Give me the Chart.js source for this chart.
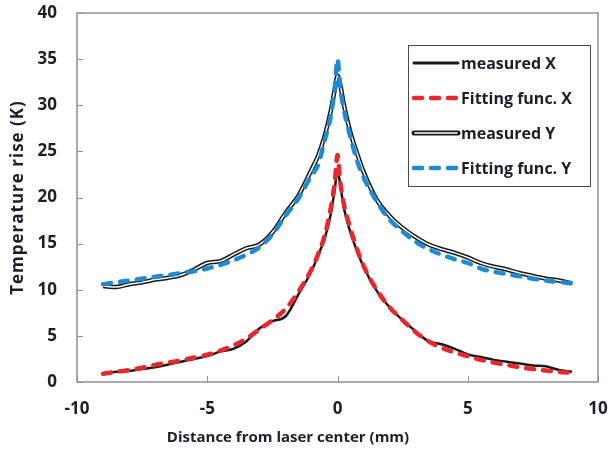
<!DOCTYPE html>
<html>
<head>
<meta charset="utf-8">
<title>Temperature rise profile</title>
<script src="https://cdn.jsdelivr.net/npm/chart.js@4/dist/chart.umd.min.js"></script>
<style>
  html, body { margin: 0; padding: 0; background: #fff; }
  #wrap { width: 611px; height: 454px; }
</style>
</head>
<body>
<div id="wrap"><canvas id="tempChart" width="611" height="454"></canvas></div>
<script>
// distance from laser center (mm)
const xPos = [-9, -8.5, -8, -7.5, -7, -6.5, -6, -5.5, -5, -4.5, -4, -3.5, -3, -2.5, -2, -1.5, -1, -0.75, -0.5, -0.25, -0.1, 0,
  0.1, 0.25, 0.5, 0.75, 1, 1.5, 2, 2.5, 3, 3.5, 4, 4.5, 5, 5.5, 6, 6.5, 7, 7.5, 8, 8.5, 9];

// temperature rise (K)
const measuredX = [0.9, 1.1, 1.2, 1.4, 1.6, 1.9, 2.2, 2.5, 2.8, 3.3, 3.6, 4.4, 5.8, 6.6, 7.1, 9.5, 12.0, 13.7, 15.5, 18.3, 21.0, 23.0,
  21.5, 18.8, 16.2, 14.2, 12.5, 9.9, 8.1, 6.7, 5.5, 4.4, 4.1, 3.6, 3.0, 2.7, 2.4, 2.2, 2.0, 1.8, 1.7, 1.3, 1.1];
const fitX = [0.9, 1.1, 1.3, 1.55, 1.85, 2.1, 2.35, 2.65, 2.95, 3.4, 3.95, 4.7, 5.7, 6.7, 7.9, 9.8, 12.2, 13.8, 15.8, 19.0, 21.8, 24.6,
  21.8, 19.2, 16.6, 14.4, 12.6, 10.0, 8.1, 6.7, 5.4, 4.4, 3.7, 3.2, 2.8, 2.4, 2.1, 1.85, 1.6, 1.4, 1.25, 1.1, 1.0];
const measuredY = [10.4, 10.3, 10.6, 10.8, 11.1, 11.3, 11.6, 12.2, 12.9, 13.1, 13.8, 14.5, 14.9, 16.2, 18.3, 20.2, 23.0, 24.5, 26.6, 29.5, 31.8, 33.2,
  32.3, 30.0, 27.0, 24.8, 22.8, 19.8, 18.0, 16.7, 15.7, 14.9, 14.4, 14.0, 13.5, 12.9, 12.5, 12.2, 11.8, 11.5, 11.2, 11.0, 10.7];
const fitY = [10.6, 10.8, 11.0, 11.2, 11.4, 11.6, 11.8, 12.0, 12.3, 12.7, 13.2, 13.8, 14.6, 16.0, 18.0, 19.9, 22.4, 23.5, 26.1, 29.0, 32.0, 35.0,
  32.0, 29.5, 26.5, 24.0, 22.2, 19.6, 17.6, 16.3, 15.2, 14.4, 13.8, 13.3, 12.9, 12.3, 11.95, 11.7, 11.45, 11.2, 11.0, 10.85, 10.7];

const xRange = [-10, 10];
const yRange = [0, 40];
const tickStep = 5;

const xTitle = 'Distance from laser center (mm)';
const yTitle = 'Temperature rise (K)';

const textColor = '#1d1d2b';
const fontFamily = '"Open Sans", Lato, sans-serif';

const toPoints = (ys) => ys.map((y, i) => ({ x: xPos[i], y: y }));

// small tick marks pointing into the plot, the closed frame and axis titles
const frameTicks = {
  id: 'frameTicks',
  beforeDatasetsDraw(chart) {
    const { ctx, chartArea: a, scales } = chart;
    ctx.save();
    ctx.strokeStyle = '#8d929a';
    ctx.lineWidth = 1.5;
    ctx.strokeRect(a.left, a.top, a.right - a.left, a.bottom - a.top);
    ctx.lineWidth = 1;
    ctx.beginPath();
    scales.x.ticks.forEach(t => {
      const px = Math.round(scales.x.getPixelForValue(t.value)) + 0.5;
      ctx.moveTo(px, a.bottom);
      ctx.lineTo(px, a.bottom - 6);
    });
    scales.y.ticks.forEach(t => {
      const py = Math.round(scales.y.getPixelForValue(t.value)) + 0.5;
      ctx.moveTo(a.left, py);
      ctx.lineTo(a.left + 6, py);
    });
    ctx.stroke();

    ctx.fillStyle = textColor;
    ctx.font = 'bold 15px ' + fontFamily;
    ctx.textAlign = 'center';
    ctx.textBaseline = 'middle';
    ctx.fillText(xTitle, a.left + 211, a.bottom + 56);
    ctx.translate(18, (a.top + a.bottom) / 2);
    ctx.rotate(-Math.PI / 2);
    ctx.font = 'bold 17px ' + fontFamily;
    ctx.letterSpacing = '1px';
    ctx.fillText(yTitle, 0, 0);
    ctx.restore();
  }
};

// boxed legend in the upper right corner of the plot
const boxLegend = {
  id: 'boxLegend',
  afterDraw(chart) {
    const { ctx, chartArea: a } = chart;
    const left = a.right - 190, top = a.top + 32, w = 182, h = 141;
    ctx.save();
    ctx.fillStyle = '#fff';
    ctx.fillRect(left, top, w, h);
    ctx.strokeStyle = '#4a4a4a';
    ctx.lineWidth = 1;
    ctx.strokeRect(left + 0.5, top + 0.5, w, h);

    const items = chart.data.datasets.filter(d => d.legendRow !== undefined)
      .sort((p, q) => p.legendRow - q.legendRow);
    ctx.font = 'bold 16px ' + fontFamily;
    ctx.textBaseline = 'middle';
    items.forEach((d, i) => {
      const y = top + 18 + i * 35;
      const x0 = left + 6, x1 = left + 50;
      ctx.beginPath();
      ctx.moveTo(x0, y);
      ctx.lineTo(x1, y);
      ctx.strokeStyle = d.borderColor;
      ctx.lineWidth = d.legendWidth || d.borderWidth;
      ctx.lineCap = 'round';
      ctx.setLineDash(d.legendDash || []);
      ctx.stroke();
      if (d.hollow) {
        ctx.beginPath();
        ctx.moveTo(x0 + 1, y);
        ctx.lineTo(x1 - 1, y);
        ctx.strokeStyle = '#fff';
        ctx.lineWidth = 1.5;
        ctx.stroke();
      }
      ctx.setLineDash([]);
      ctx.fillStyle = textColor;
      ctx.fillText(d.label, x1 + 3, y + 1);
    });
    ctx.restore();
  }
};

const ctx = document.getElementById('tempChart').getContext('2d');
new Chart(ctx, {
  type: 'scatter',
  data: {
    datasets: [
      {
        label: 'Fitting func. Y',
        data: toPoints(fitY),
        borderColor: '#1d8ad3',
        borderWidth: 4.5,
        borderDash: [8, 9],
        borderCapStyle: 'round',
        legendDash: [8, 9],
        legendRow: 3,
        order: 0
      },
      {
        label: 'Fitting func. X',
        data: toPoints(fitX),
        borderColor: '#e8282d',
        borderWidth: 4.5,
        borderDash: [8, 9],
        borderCapStyle: 'round',
        legendDash: [8, 9],
        legendRow: 1,
        order: 1
      },
      {
        label: 'measured Y inner',
        data: toPoints(measuredY),
        borderColor: '#ffffff',
        borderWidth: 1.5,
        order: 2
      },
      {
        label: 'measured X',
        data: toPoints(measuredX),
        borderColor: '#1a1a1a',
        borderWidth: 2.5,
        legendWidth: 3,
        legendRow: 0,
        order: 3
      },
      {
        label: 'measured Y',
        data: toPoints(measuredY),
        borderColor: '#1a1a1a',
        borderWidth: 4.5,
        hollow: true,
        legendWidth: 5,
        legendRow: 2,
        order: 4
      }
    ].map(d => Object.assign({ showLine: true, pointRadius: 0, pointHoverRadius: 0, cubicInterpolationMode: 'monotone' }, d))
  },
  options: {
    responsive: false,
    animation: false,
    events: [],
    layout: { padding: { top: 13, right: 13, left: 0, bottom: 0 } },
    plugins: {
      legend: { display: false },
      tooltip: { enabled: false }
    },
    scales: {
      x: {
        type: 'linear',
        min: xRange[0],
        max: xRange[1],
        border: { display: false },
        grid: { display: false, drawTicks: false },
        ticks: {
          stepSize: tickStep,
          padding: 17,
          color: textColor,
          font: { family: fontFamily, size: 17, weight: 'bold' }
        },
        afterFit(scale) {
          scale.height = 72;
          scale.paddingLeft = 0;
          scale.paddingRight = 0;
        }
      },
      y: {
        type: 'linear',
        min: yRange[0],
        max: yRange[1],
        border: { display: false },
        grid: { display: false, drawTicks: false },
        ticks: {
          stepSize: tickStep,
          padding: 20,
          color: textColor,
          font: { family: fontFamily, size: 17, weight: 'bold' }
        },
        afterFit(scale) {
          scale.width = 77;
          scale.paddingTop = 0;
          scale.paddingBottom = 0;
        }
      }
    }
  },
  plugins: [frameTicks, boxLegend]
});
</script>
</body>
</html>
